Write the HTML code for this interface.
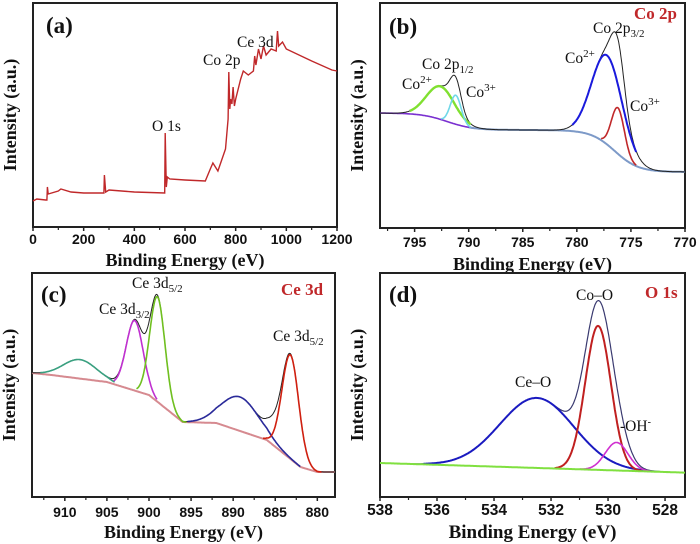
<!DOCTYPE html>
<html><head><meta charset="utf-8">
<style>
html,body{margin:0;padding:0;background:#fff;}
svg{display:block;}
.tk{font-family:"Liberation Sans",sans-serif;font-weight:bold;fill:#111;}
.ti{font-family:"Liberation Serif",serif;font-weight:bold;fill:#111;}
.lb{font-family:"Liberation Serif",serif;font-size:15.5px;fill:#111;}
.pl{font-family:"Liberation Serif",serif;font-weight:bold;font-size:23px;fill:#111;}
.rd{font-family:"Liberation Serif",serif;font-weight:bold;font-size:17px;fill:#c0282a;}
</style></head>
<body>
<svg id="fig" width="700" height="544" viewBox="0 0 700 544" xmlns="http://www.w3.org/2000/svg"></svg>
<script>
// ---- Panel (a) survey data ----
const surveyEnergy=[0,15,50,55,57,60,100,110,150,200,280,282,287,300,400,520,522,526,530,540,600,680,700,710,730,760,770,773,777,780,785,790,795,800,820,830,850,870,875,880,890,900,910,920,940,960,965,970,985,1000,1100,1180,1200];
const surveyIntensity=[26,28,27,27,40,33,36,38,35,34,34,52,35,37,35,34,94,40,50,48,47,46,58,64,56,78,108,155,118,128,123,140,121,128,148,156,152,156,171,162,178,168,181,172,178,176,196,181,185,178,166,157,156];
const ticksA=[0,200,400,600,800,1000,1200];
// ---- Panel (b) Co 2p ----
const coCenters=[777.2,776.2,792.6,791.2];
const coHeights=[89,46,33,29];
const coWidths=[1.4,0.6,1.3,0.5];
const coBgSteps=[56,42,17];
const ticksB=[795,790,785,780,775,770];
// ---- Panel (c) Ce 3d ----
const ceCenters=[908.2,901.7,899.0,889.2,883.2,885.3];
const ceHeights=[19,70,105,34,104,12];
const ceWidths=[2.0,1.0,0.9,2.2,1.0,0.8];
const ceBgE=[913.9,911.6,905,900,896,892,886,882,880,877.9];
const ceBgV=[124,122,115,102,75,74,57,30,25,25];
const ticksC=[910,905,900,895,890,885,880];
// ---- Panel (d) O 1s ----
const oCenters=[532.5,530.35,529.7];
const oHeights=[70,144,28];
const oWidths=[1.3,0.45,0.4];
const oBg=[34,25];
const ticksD=[538,536,534,532,530,528];

const NS="http://www.w3.org/2000/svg";
const fig=document.getElementById('fig');
function mk(tag,attrs,parent){const e=document.createElementNS(NS,tag);for(const k in attrs)e.setAttribute(k,attrs[k]);(parent||fig).appendChild(e);return e;}
function gauss(x,c,h,w){return h*Math.exp(-((x-c)*(x-c))/(2*w*w));}
function sig(t){return 1/(1+Math.exp(-t));}
function interp(x,xs,ys){for(let i=0;i<xs.length-1;i++){const a=xs[i],b=xs[i+1];if((x-a)*(x-b)<=0){const t=(x-a)/(b-a);return ys[i]+t*(ys[i+1]-ys[i]);}}return ys[ys.length-1];}

function panel(p){
  const g=mk('g',{});
  
  
  const sx=e=>p.x0+(e-p.d0)/(p.d1-p.d0)*(p.x1-p.x0);
  const sy=v=>p.yb-v;
  p.sx=sx;p.sy=sy;p.g=g;
  const fr=mk('rect',{x:p.x0,y:p.yt,width:p.x1-p.x0,height:p.yb-p.yt,fill:'none',stroke:'#222','stroke-width':2},g);
  
  p.ticks.forEach(t=>{
    const x=sx(t);
    const l=mk('line',{x1:x,x2:x,y1:p.yb,y2:p.yb+4,stroke:'#222','stroke-width':1.5},g);
    
    const tx=mk('text',{x:x,y:p.tickY,'text-anchor':'middle',class:'tk','font-size':p.tickSize},g);tx.textContent=t;
    
  });
  const step=p.ticks[1]-p.ticks[0];
  for(let i=-1;i<p.ticks.length;i++){
    const e=p.ticks[0]+step*(i+0.5);
    const lo=Math.min(p.d0,p.d1),hi=Math.max(p.d0,p.d1);
    if(e<lo||e>hi)continue;
    const m=sx(e);
    const l=mk('line',{x1:m,x2:m,y1:p.yb,y2:p.yb+3,stroke:'#222','stroke-width':1.2},g);
    
  }
  const t=mk('text',{x:(p.x0+p.x1)/2,y:p.titleY,'text-anchor':'middle',class:'ti','font-size':p.titleSize},g);t.textContent='Binding Energy (eV)';
  
  const yl=mk('text',{x:0,y:0,'text-anchor':'middle',class:'ti','font-size':18,transform:`translate(${p.x0-17},${(p.yt+p.yb)/2}) rotate(-90)`},g);yl.textContent='Intensity (a.u.)';
  
  return p;
}
function curve(p,f,color,w,name){
  let d='';const n=400;
  const lo=Math.min(p.d0,p.d1),hi=Math.max(p.d0,p.d1);
  for(let i=0;i<=n;i++){const e=lo+(hi-lo)*i/n;const v=f(e);if(v===null)continue;d+=(d?'L':'M')+p.sx(e).toFixed(1)+','+p.sy(v).toFixed(1);}
  const pa=mk('path',{d:d,fill:'none',stroke:color,'stroke-width':w,'stroke-linejoin':'round'},p.g);
  
}
function label(p,x,y,html,cls,name,anchor){
  const t=mk('text',{x:x,y:y,class:cls,'text-anchor':anchor||'start'},p.g);t.innerHTML=html;
  
}

// Panel a
const A=panel({name:'panel-a-survey',x0:33,x1:337,d0:0,d1:1200,yt:3,yb:227,ticks:ticksA,tickY:244,tickSize:14,titleY:266,titleSize:18});
{
  let d='';surveyEnergy.forEach((e,i)=>{d+=(i?'L':'M')+A.sx(e).toFixed(1)+','+A.sy(surveyIntensity[i]).toFixed(1);});
  const pa=mk('path',{d:d,fill:'none',stroke:'#c0282a','stroke-width':1.4},A.g);
  
}
label(A,46,33,'(a)','pl','panel-label-a');
label(A,152,131,'O 1s','lb','o1s-label');
label(A,203,65,'Co 2p','lb','co2p-label');
label(A,237,47,'Ce 3d','lb','ce3d-label');

// Panel b
const B=panel({name:'panel-b-co2p',x0:380,x1:685,d0:798.2,d1:770,yt:3,yb:228,ticks:ticksB,tickY:247,tickSize:14,titleY:270,titleSize:18});
const bgB=e=>coBgSteps[0]+coBgSteps[1]*sig((e-776.5)/1.1)+coBgSteps[2]*sig((e-792)/1.2);
const peakB=i=>e=>bgB(e)+gauss(e,coCenters[i],coHeights[i],coWidths[i]);
const totB=e=>{let v=bgB(e);for(let i=0;i<coCenters.length;i++)v+=gauss(e,coCenters[i],coHeights[i],coWidths[i]);return v;};
curve(B,e=>e>789.5?bgB(e):null,'#7a30d0',1.6,'background-left');
curve(B,e=>e<=790?bgB(e):null,'#7d9ac8',2,'background-right');
curve(B,totB,'#222',1,'co2p-envelope');
curve(B,e=>(e>774.5&&e<780.5)?peakB(0)(e):null,'#1a1adc',2,'co2plus-3-2-peak');
curve(B,e=>(e>774.5&&e<777.8)?peakB(1)(e):null,'#c0282a',1.6,'co3plus-3-2-peak');
curve(B,e=>(e>789.8&&e<795.5)?peakB(2)(e):null,'#80e030',2.4,'co2plus-1-2-peak');
curve(B,e=>(e>789.8&&e<792.6)?peakB(3)(e):null,'#70d8e8',1.6,'co3plus-1-2-peak');
label(B,389,34,'(b)','pl','panel-label-b');
label(B,634,19,'Co 2p','rd','co2p-title');
label(B,593,33,'Co 2p<tspan font-size="11" dy="4">3/2</tspan>','lb','co2p32-label');
label(B,565,63,'Co<tspan font-size="11" dy="-6">2+</tspan>','lb','co2plus-label-right');
label(B,630,111,'Co<tspan font-size="11" dy="-6">3+</tspan>','lb','co3plus-label-right');
label(B,422,69,'Co 2p<tspan font-size="11" dy="4">1/2</tspan>','lb','co2p12-label');
label(B,402,89,'Co<tspan font-size="11" dy="-6">2+</tspan>','lb','co2plus-label-left');
label(B,466,97,'Co<tspan font-size="11" dy="-6">3+</tspan>','lb','co3plus-label-left');

// Panel c
const C=panel({name:'panel-c-ce3d',x0:32,x1:335,d0:913.9,d1:877.9,yt:273,yb:497,ticks:ticksC,tickY:517,tickSize:14,titleY:538,titleSize:18});
const bgC=e=>interp(e,ceBgE,ceBgV);
const peakC=i=>e=>bgC(e)+gauss(e,ceCenters[i],ceHeights[i],ceWidths[i]);
const totC=e=>{let v=bgC(e);for(let i=0;i<ceCenters.length;i++)v+=gauss(e,ceCenters[i],ceHeights[i],ceWidths[i]);return v;};
curve(C,bgC,'#d68a90',2,'ce-background');
curve(C,totC,'#222',1,'ce3d-envelope');
curve(C,e=>(e>904&&e<913)?peakC(0)(e):null,'#3aa080',1.6,'ce-peak-908');
curve(C,e=>(e>899&&e<904.2)?peakC(1)(e):null,'#c030d0',1.6,'ce-peak-901');
curve(C,e=>(e>895.5&&e<901.5)?peakC(2)(e):null,'#70c020',1.6,'ce-peak-899');
curve(C,e=>(e>882&&e<895.5)?peakC(3)(e):null,'#2a2a9a',1.6,'ce-peak-889');
curve(C,e=>(e>879.5&&e<886.5)?peakC(4)(e):null,'#d02010',1.6,'ce-peak-883');
label(C,41,302,'(c)','pl','panel-label-c');
label(C,281,295,'Ce 3d','rd','ce3d-title');
label(C,132,288,'Ce 3d<tspan font-size="11" dy="4">5/2</tspan>','lb','ce3d52-label-mid');
label(C,99,314,'Ce 3d<tspan font-size="11" dy="4">3/2</tspan>','lb','ce3d32-label');
label(C,273,341,'Ce 3d<tspan font-size="11" dy="4">5/2</tspan>','lb','ce3d52-label-right');

// Panel d
const D=panel({name:'panel-d-o1s',x0:380,x1:685,d0:538,d1:527.3,yt:273,yb:497,ticks:ticksD,tickY:515,tickSize:15.5,titleY:538,titleSize:19});
const bgD=e=>oBg[1]+(oBg[0]-oBg[1])*(e-528)/10;
const peakD=i=>e=>bgD(e)+gauss(e,oCenters[i],oHeights[i],oWidths[i]);
const totD=e=>{let v=bgD(e);for(let i=0;i<oCenters.length;i++)v+=gauss(e,oCenters[i],oHeights[i],oWidths[i]);return v;};
curve(D,totD,'#3a3a70',1.2,'o1s-envelope');
curve(D,e=>(e>528.7&&e<536.5)?peakD(0)(e):null,'#1a1ac0',2,'ce-o-peak');
curve(D,e=>(e>528.8&&e<531.9)?peakD(1)(e):null,'#c02020',2,'co-o-peak');
curve(D,e=>(e>528.5&&e<531)?peakD(2)(e):null,'#d030d0',1.6,'oh-peak');
curve(D,bgD,'#80e040',2,'o1s-background');
label(D,389,302,'(d)','pl','panel-label-d');
label(D,645,298,'O 1s','rd','o1s-title');
label(D,576,300,'Co–O','lb','co-o-label');
label(D,515,387,'Ce–O','lb','ce-o-label');
label(D,620,431,'-OH<tspan font-size="10" dy="-6">-</tspan>','lb','oh-label');
</script>
</body></html>
